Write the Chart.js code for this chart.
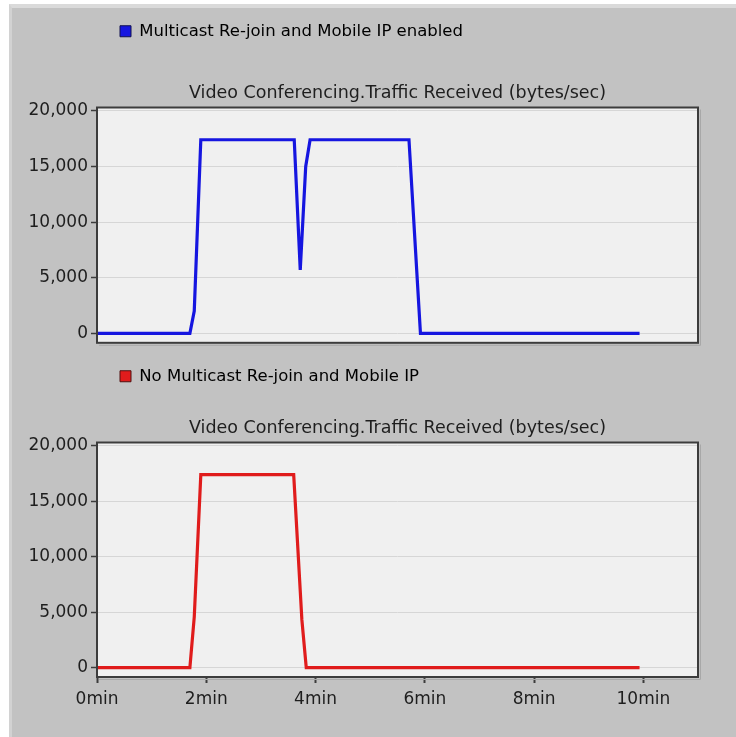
<!DOCTYPE html>
<html>
<head>
<meta charset="utf-8">
<script src="https://cdn.jsdelivr.net/npm/chart.js@4.4.0/dist/chart.umd.min.js"></script>
<style>
    body { margin: 0; background: #ffffff; width: 736px; height: 737px; overflow: hidden; position: relative; }
    #panel {
        position: absolute; left: 9px; top: 4px; width: 727px; height: 733px;
        background: #c2c2c2; box-sizing: border-box;
        border-top: 4px solid #dadada; border-left: 3px solid #d2d2d2;
    }
    canvas { position: absolute; left: 0; }
</style>
</head>
<body>
<div id="panel"></div>
<canvas id="topChart" width="736" height="356" style="top:0px"></canvas>
<canvas id="bottomChart" width="736" height="392" style="top:345px"></canvas>
<script>
// 時間 (min) 與流量 (bytes/sec)
const rejoinTimes  = [0, 1.70, 1.78, 1.90, 3.61, 3.72, 3.82, 3.90, 5.71, 5.92, 9.93];
const rejoinValues = [0, 0, 2000, 17400, 17400, 5700, 15000, 17400, 17400, 0, 0];
const noRejoinTimes  = [0, 1.70, 1.78, 1.90, 3.60, 3.75, 3.83, 9.93];
const noRejoinValues = [0, 0, 4560, 17400, 17400, 4300, 0, 0];

const xTicks = [0, 2, 4, 6, 8, 10];
const yTicks = [0, 5000, 10000, 15000, 20000];

const chartTitle = 'Video Conferencing.Traffic Received (bytes/sec)';
const rejoinLabel = 'Multicast Re-join and Mobile IP enabled';
const noRejoinLabel = 'No Multicast Re-join and Mobile IP';

Chart.defaults.font.family = "'DejaVu Sans', sans-serif";
Chart.defaults.font.size = 17;
Chart.defaults.color = '#1e1e1e';

// 繪圖區背景與外框
const plotFrame = {
    id: 'plotFrame',
    beforeDraw(chart) {
        const a = chart.chartArea;
        const ctx = chart.ctx;
        ctx.save();
        ctx.fillStyle = '#f0f0f0';
        ctx.fillRect(a.left, a.top, a.right - a.left, a.bottom - a.top);
        ctx.restore();
    },
    afterDraw(chart) {
        const a = chart.chartArea;
        const ctx = chart.ctx;
        ctx.save();
        ctx.strokeStyle = '#a8a8a8';
        ctx.lineWidth = 1;
        ctx.beginPath();
        ctx.moveTo(a.right + 2.5, a.top + 2);
        ctx.lineTo(a.right + 2.5, a.bottom + 2.5);
        ctx.lineTo(a.left + 2, a.bottom + 2.5);
        ctx.stroke();
        ctx.strokeStyle = '#3c3c3c';
        ctx.lineWidth = 2;
        ctx.strokeRect(a.left, a.top, a.right - a.left, a.bottom - a.top);
        ctx.restore();
    }
};

function toPoints(times, values) {
    return times.map((t, i) => ({ x: t, y: values[i] }));
}

function makeChart(canvasId, label, times, values, color, boxBorder, opts) {
    return new Chart(document.getElementById(canvasId), {
        type: 'line',
        data: {
            datasets: [{
                label: label,
                data: toPoints(times, values),
                borderColor: color,
                backgroundColor: color,
                borderWidth: 3.2,
                pointRadius: 0,
                tension: 0,
                fill: false
            }]
        },
        options: {
            responsive: false,
            animation: false,
            devicePixelRatio: 1,
            layout: { padding: { left: 0, right: 38, top: 0, bottom: 0 } },
            scales: {
                x: {
                    type: 'linear',
                    min: 0,
                    max: 11,
                    afterBuildTicks: axis => { axis.ticks = xTicks.map(v => ({ value: v })); },
                    afterFit: axis => { axis.height = opts.xHeight; },
                    border: { display: false },
                    grid: {
                        drawOnChartArea: false,
                        drawTicks: opts.showX,
                        tickLength: 6,
                        tickColor: '#3c3c3c',
                        tickWidth: 2
                    },
                    ticks: {
                        display: opts.showX,
                        padding: 6,
                        maxRotation: 0,
                        callback: v => v + 'min'
                    }
                },
                y: {
                    min: -850,
                    max: 20300,
                    afterBuildTicks: axis => { axis.ticks = yTicks.map(v => ({ value: v })); },
                    afterFit: axis => { axis.width = 97; },
                    border: { display: false },
                    grid: {
                        color: '#d6d6d6',
                        lineWidth: 1,
                        tickLength: 6,
                        tickColor: '#3c3c3c',
                        tickWidth: 1.5
                    },
                    ticks: {
                        padding: 3,
                        callback: v => v.toLocaleString('en-US')
                    }
                }
            },
            plugins: {
                legend: {
                    display: true,
                    position: 'top',
                    align: 'start',
                    fullSize: false,
                    weight: 3000,
                    labels: {
                        boxWidth: 11,
                        boxHeight: 11,
                        padding: 23,
                        font: { size: 16.5 },
                        generateLabels: () => [{
                            text: label,
                            fillStyle: color,
                            strokeStyle: boxBorder,
                            lineWidth: 1,
                            hidden: false,
                            datasetIndex: 0
                        }]
                    }
                },
                title: {
                    display: true,
                    text: chartTitle,
                    fullSize: false,
                    font: { size: 17.5, weight: 'normal' },
                    padding: { top: opts.titleTop, bottom: opts.titleBottom }
                },
                tooltip: { enabled: false }
            }
        },
        plugins: [plotFrame]
    });
}

makeChart('topChart', rejoinLabel, rejoinTimes, rejoinValues, '#1616e0', '#101050',
    { showX: false, xHeight: 7, titleTop: 33, titleBottom: 4 });
makeChart('bottomChart', noRejoinLabel, noRejoinTimes, noRejoinValues, '#e01c1c', '#501010',
    { showX: true, xHeight: 60, titleTop: 23, titleBottom: 4 });
</script>
</body>
</html>
